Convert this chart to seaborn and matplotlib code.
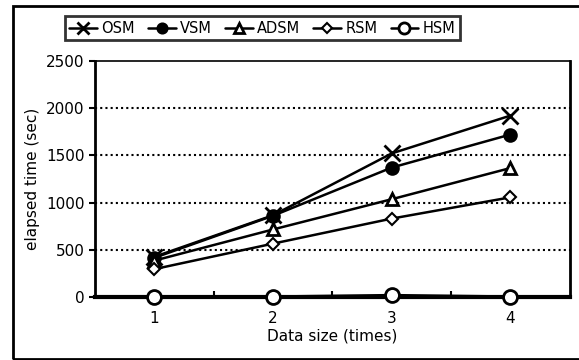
import numpy as np
import pandas as pd
import seaborn as sns
import matplotlib.pyplot as plt
from matplotlib.patches import Rectangle

sns.set_theme(style="white")
plt.rcParams['font.family'] = ['DejaVu Sans']
plt.rcParams['text.color'] = 'black'
plt.rcParams['axes.labelcolor'] = 'black'
plt.rcParams['xtick.color'] = 'black'
plt.rcParams['ytick.color'] = 'black'

sizes = ["1", "2", "3", "4"]
osm = [425, 865, 1520, 1920]
vsm = [415, 860, 1370, 1720]
adsm = [385, 715, 1035, 1365]
rsm = [295, 565, 830, 1055]
hsm = [5, 5, 20, 5]

names = ["OSM", "VSM", "ADSM", "RSM", "HSM"]
series = [osm, vsm, adsm, rsm, hsm]
df = pd.DataFrame({
    "size": np.tile(np.arange(len(sizes)), len(names)),
    "time": np.concatenate(series),
    "method": np.repeat(names, len(sizes)),
})

styles = {
    "OSM": dict(marker="x", ms=11, mew=2, mfc="black"),
    "VSM": dict(marker="o", ms=9, mew=1.5, mfc="black"),
    "ADSM": dict(marker="^", ms=9, mew=2, mfc="white"),
    "RSM": dict(marker="D", ms=6.5, mew=1.5, mfc="white"),
    "HSM": dict(marker="o", ms=10, mew=2, mfc="white"),
}

fig = plt.figure(figsize=(5.79, 3.6), dpi=100)
ax = fig.add_axes([0.164, 0.175, 0.82, 0.656])

for name in names:
    st = styles[name]
    sns.lineplot(data=df[df["method"] == name], x="size", y="time", ax=ax,
                 color="black", lw=1.8, marker=st["marker"], markersize=st["ms"],
                 markeredgewidth=st["mew"], markerfacecolor=st["mfc"],
                 markeredgecolor="black", label=name, zorder=3, clip_on=False)

ax.set_xlim(-0.5, len(sizes) - 0.5)
ax.set_ylim(0, 2500)
ax.set_yticks([0, 500, 1000, 1500, 2000, 2500])
ax.set_xticks(range(len(sizes)))
ax.set_xticklabels(sizes)
ax.set_xticks([0.5, 1.5, 2.5], minor=True)
ax.tick_params(axis="x", which="major", length=0, pad=10, labelsize=11)
ax.tick_params(axis="x", which="minor", direction="in", length=4, width=1.5, bottom=True)
ax.tick_params(axis="y", length=4, width=1.5, left=True, labelsize=11)
for y in [500, 1000, 1500, 2000]:
    ax.axhline(y, color="black", ls=(0, (1, 1.5)), lw=1.5, zorder=1)
for s in ax.spines.values():
    s.set_color("black")
    s.set_linewidth(2)
ax.spines["top"].set_linewidth(1.2)
ax.spines["bottom"].set_linewidth(3)

ax.set_xlabel("Data size (times)", fontsize=11, labelpad=2)
ax.set_ylabel("elapsed time (sec)", fontsize=11, labelpad=4)

leg = ax.legend(loc="upper center", bbox_to_anchor=(0.453, 0.975), bbox_transform=fig.transFigure,
                ncol=5, frameon=True, fancybox=False, fontsize=10.5,
                handlelength=1.9, handletextpad=0.3, columnspacing=0.9,
                borderpad=0.3, edgecolor="black", markerscale=0.8)
leg.get_frame().set_linewidth(2)

fig.patches.append(Rectangle((13 / 579, 1 / 360), 1.0, 353 / 360, transform=fig.transFigure,
                             fill=False, ec="black", lw=2))

fig.savefig("out.png", dpi=100)
